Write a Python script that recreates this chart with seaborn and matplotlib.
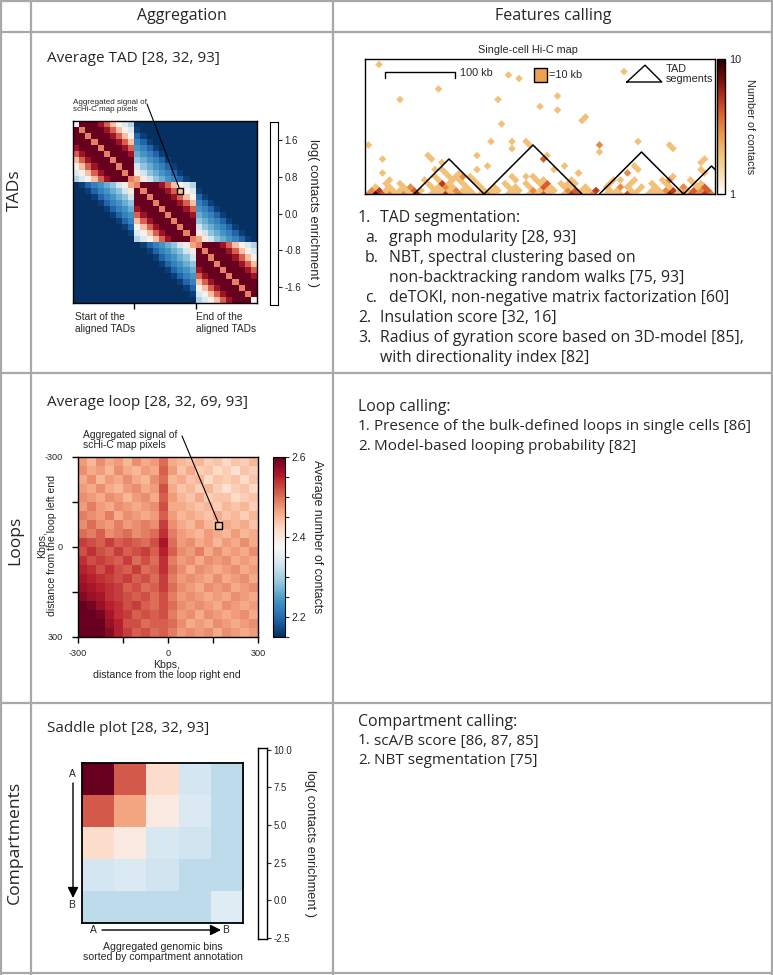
import numpy as np
import matplotlib
matplotlib.use('Agg')
import matplotlib.pyplot as plt
import seaborn as sns
from matplotlib.colors import LinearSegmentedColormap, LogNorm
from matplotlib.cm import ScalarMappable
from matplotlib.patches import Polygon, Rectangle
from matplotlib.ticker import NullLocator, FixedLocator

W, H = 773, 975

# ---------------- table text ----------------
col_headers = ['Aggregation', 'Features calling']
row_labels = ['TADs', 'Loops', 'Compartments']
panel_titles = ['Average TAD [28, 32, 93]',
                'Average loop [28, 32, 69, 93]',
                'Saddle plot [28, 32, 93]']

# (number, text, indent level)
tad_methods = [
    ('1.', 'TAD segmentation:', 0),
    ('a.', 'graph modularity [28, 93]', 1),
    ('b.', 'NBT, spectral clustering based on', 1),
    ('', 'non-backtracking random walks [75, 93]', 1),
    ('c.', 'deTOKI, non-negative matrix factorization [60]', 1),
    ('2.', 'Insulation score [32, 16]', 0),
    ('3.', 'Radius of gyration score based on 3D-model [85],', 0),
    ('', 'with directionality index [82]', 0),
]
loop_methods_title = 'Loop calling:'
loop_methods = [('1.', 'Presence of the bulk-defined loops in single cells [86]'),
                ('2.', 'Model-based looping probability [82]')]
comp_methods_title = 'Compartment calling:'
comp_methods = [('1.', 'scA/B score [86, 87, 85]'),
                ('2.', 'NBT segmentation [75]')]

# ---------------- average TAD ----------------
tad_bounds = [0, 10, 20, 30]
# log enrichment by diagonal offset, inside one TAD
in_tad_profile = [1.0, 2.0, 2.0, 2.0, 1.7, 1.2, 0.6, 0.1, -0.3, -0.6]
# log enrichment by diagonal offset, between neighbouring TADs (offset 1, 2, ...)
cross_tad_profile = [0.8, 0.2, -0.4, -0.8, -1.0, -1.2, -1.35, -1.6, -1.9]
tad_end_value = 0.0
tad_cbar_ticks = [1.6, 0.8, 0.0, -0.8, -1.6]

# ---------------- single-cell Hi-C map ----------------
sc_bins = 50
diag_counts = [3, 9, 4, 3, 2, 3, 2, 6, 0, 2, 2, 5, 2, 3, 2, 2, 2, 3, 2, 0,
               2, 2, 0, 2, 2, 4, 2, 0, 2, 5, 4, 2, 3, 0, 2, 2, 2, 4, 2, 0,
               2, 2, 2, 6, 2, 3, 4, 3, 5, 3]
# (bin i, bin j, number of contacts)
sc_contacts = [
    (0, 1, 3), (1, 2, 5), (2, 3, 2), (3, 4, 2), (4, 5, 2), (5, 6, 2), (6, 7, 4), (7, 8, 2),
    (9, 10, 2), (10, 11, 2), (11, 12, 2), (12, 13, 3), (13, 14, 2), (14, 15, 2), (16, 17, 2),
    (17, 18, 2), (18, 19, 2), (20, 21, 2), (21, 22, 2), (23, 24, 3), (24, 25, 2), (25, 26, 2),
    (26, 27, 2), (28, 29, 3), (29, 30, 4), (30, 31, 2), (31, 32, 2), (32, 33, 5), (34, 35, 2),
    (35, 36, 2), (37, 38, 2), (38, 39, 2), (40, 41, 2), (41, 42, 2), (42, 43, 3), (43, 44, 5),
    (44, 45, 2), (45, 46, 2), (46, 47, 4), (47, 48, 3), (48, 49, 4),
    (0, 2, 2), (2, 4, 2), (4, 6, 2), (5, 7, 3), (8, 10, 2), (9, 11, 2), (10, 12, 3), (11, 13, 2),
    (13, 15, 2), (15, 17, 2), (17, 19, 2), (19, 21, 2), (20, 22, 2), (22, 24, 2), (24, 26, 4),
    (25, 27, 2), (27, 29, 2), (30, 32, 2), (33, 35, 2), (35, 37, 3), (36, 38, 2), (38, 40, 2),
    (40, 42, 2), (42, 44, 2), (44, 46, 3), (46, 48, 2), (47, 49, 4),
    (1, 4, 2), (3, 6, 2), (7, 10, 2), (9, 12, 5), (10, 13, 2), (12, 15, 2), (14, 17, 2),
    (18, 21, 2), (21, 24, 2), (23, 26, 2), (24, 27, 4), (26, 29, 2), (28, 31, 2), (33, 36, 2),
    (36, 39, 2), (39, 42, 2), (41, 44, 2), (45, 48, 2), (46, 49, 2),
    (1, 5, 2), (6, 10, 2), (8, 12, 2), (10, 14, 2), (11, 15, 2), (13, 17, 2), (19, 23, 2),
    (22, 26, 2), (23, 27, 2), (27, 31, 2), (34, 38, 2), (36, 40, 2), (40, 44, 2), (41, 45, 3),
    (44, 48, 2),
    (7, 12, 2), (9, 14, 2), (10, 15, 2), (8, 14, 2), (6, 13, 2), (7, 14, 2), (12, 17, 2),
    (11, 16, 3), (18, 23, 2), (20, 25, 2), (21, 26, 2), (24, 32, 2), (27, 33, 2), (34, 40, 3),
    (33, 37, 2), (34, 42, 2), (35, 42, 2), (41, 46, 2), (43, 52, 2), (44, 51, 2), (13, 21, 2),
    (20, 30, 4), (20, 31, 2), (10, 16, 2), (23, 30, 2), (27, 30, 2), (28, 30, 2),
    (-17, 20, 2), (-5, 25, 2), (-9, 18, 2), (-7, 7, 2), (-3, 7, 2), (-1, 5, 2), (3, 14, 2),
    (4, 14, 2), (6, 15, 2), (10, 21, 2), (12, 19, 2), (3, 37, 2), (5, 38, 2), (5, 32, 2),
    (9, 29, 2), (10, 25, 2), (13, 28, 2), (14, 27, 2), (15, 30, 2), (16, 30, 2), (12, 37, 2),
    (13, 41, 2), (15, 39, 2), (20, 41, 2), (20, 42, 2), (19, 54, 2), (26, 40, 3), (27, 39, 2),
    (31, 46, 2), (36, 50, 2), (37, 50, 2), (43, 53, 2), (45, 51, 2), (27, 33, 2),
]
tad_segments = [(7, 17), (17, 31), (33.5, 45.5), (45.5, 53.5)]
sc_cbar_ticks = [1, 10]

# ---------------- average loop (Kbps from loop anchors) ----------------
loop_ticks = ['-300', '', '0', '', '300']
loop_mat = [
    [2.47, 2.45, 2.48, 2.46, 2.47, 2.45, 2.48, 2.46, 2.47, 2.50, 2.46, 2.45, 2.44, 2.45, 2.43, 2.44, 2.42, 2.44, 2.43, 2.45],
    [2.48, 2.46, 2.47, 2.45, 2.48, 2.46, 2.45, 2.47, 2.46, 2.51, 2.47, 2.44, 2.46, 2.43, 2.44, 2.42, 2.43, 2.41, 2.44, 2.43],
    [2.46, 2.48, 2.45, 2.47, 2.46, 2.48, 2.46, 2.45, 2.48, 2.50, 2.45, 2.46, 2.44, 2.45, 2.42, 2.44, 2.43, 2.44, 2.42, 2.44],
    [2.47, 2.46, 2.48, 2.46, 2.45, 2.47, 2.48, 2.46, 2.47, 2.52, 2.46, 2.44, 2.45, 2.43, 2.45, 2.43, 2.41, 2.43, 2.44, 2.42],
    [2.48, 2.47, 2.46, 2.48, 2.47, 2.45, 2.47, 2.48, 2.46, 2.51, 2.47, 2.45, 2.44, 2.46, 2.43, 2.44, 2.44, 2.42, 2.43, 2.44],
    [2.47, 2.49, 2.47, 2.46, 2.48, 2.47, 2.46, 2.47, 2.48, 2.52, 2.46, 2.46, 2.45, 2.44, 2.45, 2.43, 2.45, 2.44, 2.45, 2.43],
    [2.49, 2.48, 2.47, 2.49, 2.46, 2.48, 2.47, 2.46, 2.47, 2.51, 2.47, 2.45, 2.46, 2.45, 2.44, 2.46, 2.44, 2.45, 2.43, 2.45],
    [2.48, 2.50, 2.48, 2.47, 2.49, 2.47, 2.48, 2.49, 2.48, 2.53, 2.48, 2.46, 2.45, 2.47, 2.45, 2.44, 2.46, 2.45, 2.46, 2.44],
    [2.50, 2.49, 2.51, 2.48, 2.49, 2.50, 2.48, 2.49, 2.50, 2.54, 2.49, 2.47, 2.46, 2.45, 2.47, 2.46, 2.45, 2.47, 2.45, 2.46],
    [2.53, 2.52, 2.51, 2.53, 2.51, 2.52, 2.51, 2.50, 2.52, 2.56, 2.50, 2.47, 2.48, 2.46, 2.47, 2.45, 2.47, 2.46, 2.48, 2.46],
    [2.52, 2.54, 2.52, 2.51, 2.53, 2.51, 2.52, 2.53, 2.51, 2.55, 2.51, 2.48, 2.47, 2.49, 2.46, 2.48, 2.46, 2.47, 2.46, 2.48],
    [2.54, 2.52, 2.53, 2.52, 2.51, 2.53, 2.50, 2.52, 2.50, 2.54, 2.49, 2.47, 2.48, 2.46, 2.48, 2.47, 2.48, 2.46, 2.47, 2.46],
    [2.55, 2.54, 2.52, 2.54, 2.52, 2.51, 2.53, 2.50, 2.51, 2.54, 2.50, 2.48, 2.46, 2.48, 2.47, 2.46, 2.47, 2.48, 2.46, 2.47],
    [2.56, 2.55, 2.54, 2.53, 2.52, 2.53, 2.51, 2.52, 2.50, 2.53, 2.49, 2.47, 2.48, 2.47, 2.46, 2.48, 2.46, 2.47, 2.48, 2.46],
    [2.57, 2.56, 2.55, 2.54, 2.53, 2.51, 2.52, 2.50, 2.51, 2.53, 2.50, 2.48, 2.47, 2.46, 2.48, 2.47, 2.48, 2.46, 2.47, 2.48],
    [2.58, 2.57, 2.56, 2.54, 2.53, 2.52, 2.51, 2.52, 2.50, 2.52, 2.49, 2.47, 2.48, 2.47, 2.46, 2.47, 2.46, 2.48, 2.47, 2.46],
    [2.60, 2.59, 2.57, 2.55, 2.54, 2.52, 2.53, 2.51, 2.50, 2.52, 2.50, 2.48, 2.47, 2.48, 2.47, 2.46, 2.48, 2.47, 2.46, 2.47],
    [2.62, 2.61, 2.59, 2.56, 2.54, 2.53, 2.51, 2.52, 2.51, 2.52, 2.49, 2.47, 2.48, 2.46, 2.48, 2.47, 2.46, 2.47, 2.48, 2.46],
    [2.64, 2.63, 2.61, 2.57, 2.55, 2.52, 2.52, 2.50, 2.51, 2.51, 2.50, 2.48, 2.46, 2.47, 2.46, 2.48, 2.47, 2.46, 2.47, 2.48],
    [2.65, 2.64, 2.62, 2.58, 2.55, 2.53, 2.51, 2.52, 2.50, 2.51, 2.49, 2.47, 2.48, 2.47, 2.48, 2.46, 2.48, 2.47, 2.46, 2.47],
]
loop_cbar_ticks = [2.2, 2.4, 2.6]
loop_cbar_minor = [2.15, 2.25, 2.3, 2.35, 2.45, 2.5, 2.55]

# ---------------- saddle plot ----------------
saddle_mat = [
    [10.0, 7.6, 4.9, 2.6, 2.1],
    [7.6, 6.2, 4.3, 2.8, 2.1],
    [4.9, 4.3, 2.7, 2.5, 2.1],
    [2.6, 2.8, 2.5, 2.1, 2.1],
    [2.1, 2.1, 2.1, 2.1, 3.0],
]
saddle_cbar_ticks = [10.0, 7.5, 5.0, 2.5, 0.0, -2.5]

# ---------------- styling ----------------
sns.set_theme(style='white')
BODY = ['Open Sans', 'DejaVu Sans']
PANEL = ['Liberation Sans', 'DejaVu Sans']
plt.rcParams['font.family'] = PANEL
GRID = '#a8a8a8'
BODY_SIZE = 11.4
LIST_SIZE = 11.0

fig = plt.figure(figsize=(W / 100, H / 100), dpi=100)


def px_axes(x0, y0, x1, y1):
    return fig.add_axes([x0 / W, 1 - y1 / H, (x1 - x0) / W, (y1 - y0) / H])


def frame(ax, lw=1.0):
    for sp in ax.spines.values():
        sp.set_visible(True)
        sp.set_color('black')
        sp.set_linewidth(lw)


# background axes in pixel coordinates for the table
bg = px_axes(0, 0, W, H)
bg.set_xlim(0, W)
bg.set_ylim(H, 0)
bg.axis('off')
bg.set_zorder(-5)

for y in [1, 32, 373, 703, 973]:
    bg.plot([0, W], [y, y], color=GRID, lw=1.6, solid_capstyle='butt')
for x in [1, 31, 333, 772]:
    bg.plot([x, x], [0, H], color=GRID, lw=1.6, solid_capstyle='butt')

bg.text(182, 16, col_headers[0], ha='center', va='center', fontsize=11.5, family=BODY)
bg.text(553, 16, col_headers[1], ha='center', va='center', fontsize=11.5, family=BODY)
for label, yc in zip(row_labels, [190, 540, 842]):
    bg.text(15, yc, label, ha='center', va='center', rotation=90, fontsize=12.6, family=BODY)
for title, yc in zip(panel_titles, [58, 402, 728]):
    bg.text(47, yc, title, ha='left', va='center', fontsize=11, family=BODY)

# method lists
for k, (num, txt, lvl) in enumerate(tad_methods):
    y = 218 + 20 * k
    nx, tx = (358, 380) if lvl == 0 else (365, 389)
    if num:
        bg.text(nx, y, num, ha='left', va='center', fontsize=BODY_SIZE, family=BODY)
    bg.text(tx, y, txt, ha='left', va='center', fontsize=BODY_SIZE, family=BODY)

bg.text(358, 407, loop_methods_title, ha='left', va='center', fontsize=BODY_SIZE, family=BODY)
for k, (num, txt) in enumerate(loop_methods):
    y = 426 + 20 * k
    bg.text(358, y, num, ha='left', va='center', fontsize=LIST_SIZE, family=BODY)
    bg.text(374, y, txt, ha='left', va='center', fontsize=LIST_SIZE, family=BODY)

bg.text(358, 722, comp_methods_title, ha='left', va='center', fontsize=BODY_SIZE, family=BODY)
for k, (num, txt) in enumerate(comp_methods):
    y = 741 + 19 * k
    bg.text(358, y, num, ha='left', va='center', fontsize=LIST_SIZE, family=BODY)
    bg.text(374, y, txt, ha='left', va='center', fontsize=LIST_SIZE, family=BODY)

# ================= Average TAD heatmap =================
n_tad = tad_bounds[-1]
tad_id = np.searchsorted(tad_bounds, np.arange(n_tad), side='right') - 1
tad_mat = np.full((n_tad, n_tad), -2.0)
for i in range(n_tad):
    for j in range(n_tad):
        d = abs(i - j)
        if tad_id[i] == tad_id[j]:
            tad_mat[i, j] = in_tad_profile[d]
        elif d - 1 < len(cross_tad_profile):
            tad_mat[i, j] = cross_tad_profile[d - 1]
tad_mat[0, 0] = tad_end_value
tad_mat[-1, -1] = tad_end_value

ax_tad = px_axes(73, 121, 257, 303)
sns.heatmap(tad_mat, ax=ax_tad, cmap='RdBu_r', vmin=-2, vmax=2, cbar=False,
            xticklabels=False, yticklabels=False)
frame(ax_tad)
ax_tad.set_xticks(tad_bounds[1:3])
ax_tad.set_xticklabels([])
ax_tad.set_yticks([])
ax_tad.tick_params(axis='x', bottom=True, length=4, width=1, color='black', direction='out')
ax_tad.add_patch(Rectangle((17, 11), 1, 1, fill=False, edgecolor='black', lw=1.0))
ax_tad.annotate('', xy=(17.3, 11.0), xycoords='data',
                xytext=(147 / W, 1 - 104 / H), textcoords='figure fraction',
                arrowprops=dict(arrowstyle='-', color='black', lw=0.8, shrinkA=0, shrinkB=0))
bg.text(73, 106, 'Aggregated signal of\nscHi-C map pixels', ha='left', va='center',
        fontsize=5.8, linespacing=1.05)
bg.text(75, 323, 'Start of the\naligned TADs', ha='left', va='center', fontsize=7.3, linespacing=1.15)
bg.text(196, 323, 'End of the\naligned TADs', ha='left', va='center', fontsize=7.3, linespacing=1.15)

cax_tad = px_axes(270, 122, 278, 305)
cax_tad.set_facecolor('white')
cax_tad.set_ylim(-2, 2)
cax_tad.set_xticks([])
cax_tad.set_yticks(tad_cbar_ticks)
cax_tad.set_yticklabels([f'{t:.1f}' for t in tad_cbar_ticks])
cax_tad.yaxis.tick_right()
cax_tad.tick_params(axis='y', right=True, left=False, length=3, width=0.8, labelsize=7, pad=1.5)
frame(cax_tad, 0.8)
bg.text(313, 213, 'log( contacts enrichment )', rotation=270, ha='center', va='center', fontsize=9.3)

# ================= Single-cell Hi-C map =================
sc_cmap = LinearSegmentedColormap.from_list(
    'schic', ['#ffffff', '#f8dfb0', '#f3c47c', '#eb9d4f', '#dc6a33', '#b8321e', '#6e0e08', '#220000'])
sc_norm = LogNorm(vmin=1, vmax=10)

ax_sc = px_axes(365, 59, 715, 194)
ax_sc.set_xlim(0, sc_bins)
ax_sc.set_ylim(0, 135 / 7)
ax_sc.set_xticks([])
ax_sc.set_yticks([])
ax_sc.set_facecolor('white')
frame(ax_sc, 1.0)

contacts = [(b, b, c) for b, c in enumerate(diag_counts) if c > 0] + sc_contacts
for i, j, c in contacts:
    xc, yc = (i + j + 1) / 2, (j - i) / 2
    ax_sc.add_patch(Polygon([(xc - 0.5, yc), (xc, yc + 0.5), (xc + 0.5, yc), (xc, yc - 0.5)],
                            closed=True, facecolor=sc_cmap(sc_norm(c)),
                            edgecolor=sc_cmap(sc_norm(c)), lw=0.3))
for s, e in tad_segments:
    ax_sc.plot([s, (s + e) / 2, e], [0, (e - s) / 2, 0], color='black', lw=1.1)

# legend items drawn inside the map
ax_sc.plot([2.9, 2.9, 12.9, 12.9], [16.6, 17.4, 17.4, 16.6], color='black', lw=1.0)
ax_sc.text(13.5, 17.3, '100 kb', ha='left', va='center', fontsize=7.8)
ax_sc.add_patch(Rectangle((24.1, 16.0), 1.85, 1.95, facecolor='#eda24f', edgecolor='black', lw=1.0))
ax_sc.text(26.3, 17.0, '=10 kb', ha='left', va='center', fontsize=7.8)
ax_sc.plot([37.4, 40.0, 42.4, 37.4], [16.0, 18.4, 16.0, 16.0], color='black', lw=1.0)
ax_sc.text(42.9, 17.1, 'TAD\nsegments', ha='left', va='center', fontsize=7.8, linespacing=1.0)
bg.text(528, 50, 'Single-cell Hi-C map', ha='center', va='center', fontsize=7.8)

cax_sc = px_axes(717, 59, 725, 194)
cb_sc = fig.colorbar(ScalarMappable(norm=sc_norm, cmap=sc_cmap), cax=cax_sc)
cb_sc.set_ticks(sc_cbar_ticks)
cb_sc.set_ticklabels([str(t) for t in sc_cbar_ticks])
cax_sc.yaxis.set_minor_locator(NullLocator())
cax_sc.tick_params(axis='y', length=0, labelsize=7.8, pad=3)
cb_sc.outline.set_edgecolor('black')
cb_sc.outline.set_linewidth(1.0)
bg.text(750, 127, 'Number of contacts', rotation=270, ha='center', va='center', fontsize=7.8)

# ================= Average loop heatmap =================
ax_loop = px_axes(78, 457, 258, 637)
cax_loop = px_axes(273, 457, 285, 637)
sns.heatmap(np.array(loop_mat), ax=ax_loop, cmap='RdBu_r', vmin=2.15, vmax=2.6,
            cbar_ax=cax_loop, xticklabels=False, yticklabels=False)
frame(ax_loop)
n_loop = len(loop_mat)
tick_pos = np.linspace(0, n_loop, len(loop_ticks))
ax_loop.set_xticks(tick_pos)
ax_loop.set_xticklabels(loop_ticks, rotation=0)
ax_loop.set_yticks(tick_pos)
ax_loop.set_yticklabels(loop_ticks, rotation=0)
ax_loop.tick_params(axis='both', bottom=True, left=True, length=4, width=1, color='black',
                    direction='out', labelsize=6.6)
ax_loop.tick_params(axis='x', pad=4.5)
ax_loop.tick_params(axis='y', pad=7)
ax_loop.add_patch(Rectangle((15.2, 7.2), 0.8, 0.75, fill=False, edgecolor='black', lw=1.0))
ax_loop.annotate('', xy=(15.55, 7.2), xycoords='data',
                 xytext=(182 / W, 1 - 436 / H), textcoords='figure fraction',
                 arrowprops=dict(arrowstyle='-', color='black', lw=0.8, shrinkA=0, shrinkB=0))
bg.text(83, 440, 'Aggregated signal of\nscHi-C map pixels', ha='left', va='center',
        fontsize=7.4, linespacing=1.05)
bg.text(167, 670, 'Kbps,\ndistance from the loop right end', ha='center', va='center',
        fontsize=7.6, linespacing=1.05)
bg.text(47, 545, 'Kbps,\ndistance from the loop left end', ha='center', va='center',
        rotation=90, fontsize=7.6, linespacing=1.05)

cb_loop = ax_loop.collections[0].colorbar
cb_loop.set_ticks(loop_cbar_ticks)
cb_loop.set_ticklabels([f'{t:.1f}' for t in loop_cbar_ticks])
cax_loop.yaxis.set_minor_locator(FixedLocator(loop_cbar_minor))
cax_loop.tick_params(axis='y', which='both', right=True, length=3, width=0.8, labelsize=7.5, pad=1.5)
cb_loop.outline.set_visible(True)
cb_loop.outline.set_edgecolor('black')
cb_loop.outline.set_linewidth(0.8)
bg.text(317, 537, 'Average number of contacts', rotation=270, ha='center', va='center', fontsize=8.8)

# ================= Saddle plot =================
ax_sad = px_axes(82, 763, 243, 923)
sns.heatmap(np.array(saddle_mat), ax=ax_sad, cmap='RdBu_r', vmin=-2.5, vmax=10, cbar=False,
            xticklabels=False, yticklabels=False)
frame(ax_sad, 1.3)
ax_sad.set_xticks([])
ax_sad.set_yticks([])

bg.annotate('', xy=(73, 898), xytext=(73, 783),
            arrowprops=dict(arrowstyle='-|>', color='black', lw=1.0, mutation_scale=16,
                            shrinkA=0, shrinkB=0))
bg.annotate('', xy=(221, 930), xytext=(102, 930),
            arrowprops=dict(arrowstyle='-|>', color='black', lw=1.0, mutation_scale=16,
                            shrinkA=0, shrinkB=0))
bg.text(72, 774, 'A', ha='center', va='center', fontsize=7.4)
bg.text(72, 905, 'B', ha='center', va='center', fontsize=7.4)
bg.text(93, 930, 'A', ha='center', va='center', fontsize=7.4)
bg.text(226, 930, 'B', ha='center', va='center', fontsize=7.4)
bg.text(163, 952, 'Aggregated genomic bins\nsorted by compartment annotation',
        ha='center', va='center', fontsize=7.6, linespacing=1.0)

cax_sad = px_axes(258, 748, 267, 939)
cax_sad.set_facecolor('white')
cax_sad.set_ylim(-2.55, 10.1)
cax_sad.set_xticks([])
cax_sad.set_yticks(saddle_cbar_ticks)
cax_sad.set_yticklabels([f'{t:.1f}' for t in saddle_cbar_ticks])
cax_sad.yaxis.tick_right()
cax_sad.tick_params(axis='y', right=True, left=False, length=3, width=0.8, labelsize=6.9, pad=1.5)
frame(cax_sad, 1.0)
bg.text(310, 843, 'log( contacts enrichment )', rotation=270, ha='center', va='center', fontsize=9.2)

fig.savefig('out.png', dpi=100, facecolor='white')
